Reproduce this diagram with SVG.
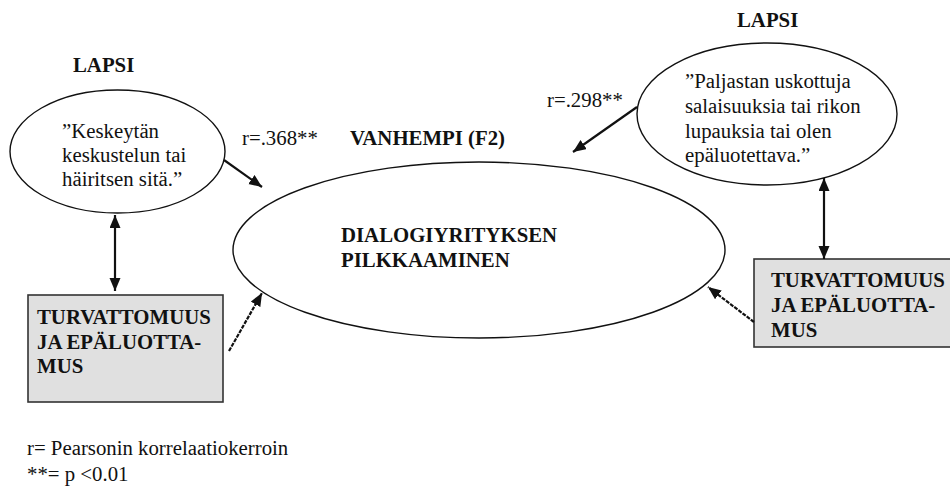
<svg xmlns="http://www.w3.org/2000/svg" width="950" height="488" viewBox="0 0 950 488">
  <style>
    text { font-family: "Liberation Serif", "Times New Roman", serif; font-size: 20.8px; fill: #111; }
    .b { font-weight: bold; }
    .oval { fill: #fff; stroke: #111; stroke-width: 1.4; }
    .box { fill: #e0e0e0; stroke: #333; stroke-width: 1.6; }
    .arr { stroke: #111; stroke-width: 2.2; fill: none; }
    .dash { stroke-dasharray: 4 1.2; }
  </style>
  <defs>
    <marker id="head" markerUnits="userSpaceOnUse" markerWidth="14" markerHeight="12" refX="13" refY="5.5" orient="auto-start-reverse">
      <path d="M0,0 L13,5.5 L0,11 z" fill="#111"/>
    </marker>
  </defs>

  <rect width="950" height="488" fill="#fff"/>

  <!-- headings -->
  <text class="b" x="73" y="72">LAPSI</text>
  <text class="b" x="737" y="27">LAPSI</text>
  <text class="b" x="350" y="145">VANHEMPI (F2)</text>

  <!-- correlation labels -->
  <text x="242" y="145">r=.368**</text>
  <text x="547" y="107">r=.298**</text>

  <g id="child-left">
    <ellipse class="oval" cx="117.5" cy="151.5" rx="107.5" ry="61.5"/>
    <text x="62" y="138">”Keskeytän</text>
    <text x="62" y="162">keskustelun tai</text>
    <text x="62" y="186">häiritsen sitä.”</text>
  </g>

  <g id="child-right">
    <ellipse class="oval" cx="767" cy="114" rx="130" ry="71"/>
    <text x="685" y="88">”Paljastan uskottuja</text>
    <text x="685" y="113">salaisuuksia tai rikon</text>
    <text x="685" y="138">lupauksia tai olen</text>
    <text x="685" y="162">epäluotettava.”</text>
  </g>

  <g id="parent">
    <ellipse class="oval" cx="479" cy="250" rx="246" ry="88"/>
    <text class="b" x="341" y="242">DIALOGIYRITYKSEN</text>
    <text class="b" x="341" y="267">PILKKAAMINEN</text>
  </g>

  <g id="insecurity-left">
    <rect class="box" x="28" y="295" width="195" height="107"/>
    <text class="b" x="37" y="324">TURVATTOMUUS</text>
    <text class="b" x="37" y="349">JA EPÄLUOTTA-</text>
    <text class="b" x="37" y="373">MUS</text>
  </g>

  <g id="insecurity-right">
    <rect class="box" x="754" y="259" width="210" height="88"/>
    <text class="b" x="771" y="287">TURVATTOMUUS</text>
    <text class="b" x="771" y="312">JA EPÄLUOTTA-</text>
    <text class="b" x="771" y="337">MUS</text>
  </g>

  <g id="connectors">
    <line class="arr" x1="224" y1="160" x2="262" y2="187" marker-end="url(#head)"/>
    <line class="arr" x1="637" y1="107" x2="573" y2="152" marker-end="url(#head)"/>
    <line class="arr" x1="115" y1="215" x2="115" y2="291" marker-start="url(#head)" marker-end="url(#head)"/>
    <line class="arr" x1="824" y1="178" x2="824" y2="259" marker-start="url(#head)" marker-end="url(#head)"/>
    <line class="arr dash" x1="229" y1="351" x2="262" y2="293" marker-end="url(#head)"/>
    <line class="arr dash" x1="754" y1="322" x2="708" y2="287" marker-end="url(#head)"/>
  </g>

  <!-- legend -->
  <text x="27" y="455">r= Pearsonin korrelaatiokerroin</text>
  <text x="27" y="481">**= p &lt;0.01</text>
</svg>
